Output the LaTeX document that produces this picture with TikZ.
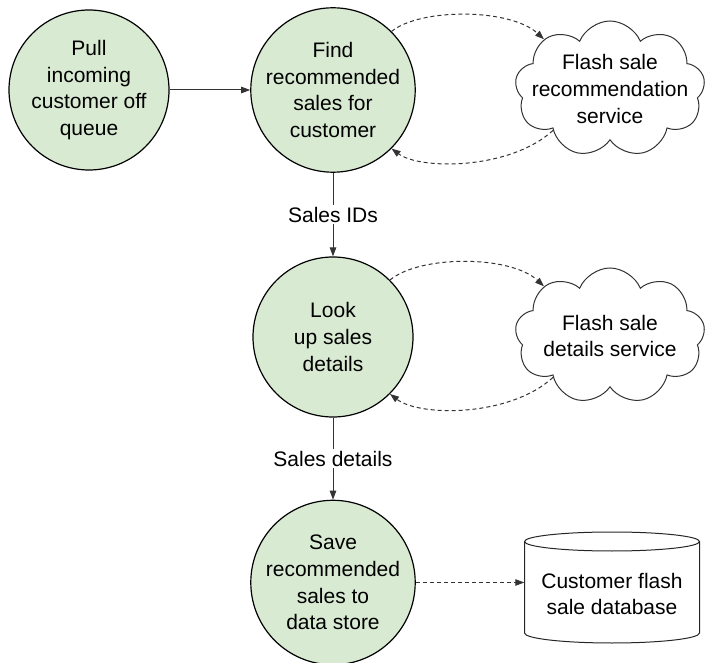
\documentclass[tikz,border=0pt]{standalone}
\usepackage{fontspec}
\setmainfont{Liberation Sans}
\usetikzlibrary{shapes.symbols,arrows.meta,calc}
\definecolor{nodegreen}{HTML}{D9EAD3}
\definecolor{linegray}{HTML}{333333}
\begin{document}
\begin{tikzpicture}[x=1pt,y=-1pt,
  every node/.style={font=\fontsize{21}{26.8}\selectfont},
  proc/.style={circle,draw=black,line width=1.2pt,fill=nodegreen,minimum size=160pt,inner sep=0pt,align=center},
  svc/.style={cloud,cloud puffs=9,cloud puff arc=135,aspect=1.45,draw=black!80,line width=1pt,fill=white,minimum width=190pt,minimum height=136pt,inner sep=0pt},
  flow/.style={draw=linegray,line width=1pt,-{Triangle[length=9pt,width=6.5pt]}},
  call/.style={flow,dash pattern=on 4pt off 3pt},
  lbl/.style={fill=white,inner sep=2pt},
  cyl/.style={draw=black!85,line width=1pt}
]
\useasboundingbox (0,0) rectangle (705,663);
\node[proc] (pull) at (89,90) {Pull\\incoming\\customer off\\queue};
\node[proc] (find) at (333,90) {Find\\recommended\\sales for\\customer};
\node[proc] (look) at (333,337) {Look\\up sales\\details};
\node[proc] (save) at (333,582.5) {Save\\recommended\\sales to\\data store};
\node[svc,label={[align=center]center:{Flash sale\\recommendation\\service}}] (rec) at (610,89) {};
\node[svc,label={[align=center]center:{Flash sale\\details service}}] (det) at (610,336) {};
\node[minimum width=175pt,minimum height=111pt,inner sep=0pt,align=center] (db) at (612,594) {Customer flash\\sale database};
\draw[cyl] ($(db.center)+(-87.5,-52.5)$) -- ($(db.center)+(-87.5,39)$) arc[start angle=180,end angle=360,x radius=87.5pt,y radius=10pt] -- ($(db.center)+(87.5,-52.5)$);
\draw[cyl] ($(db.center)+(0,-52.5)$) ellipse[x radius=87.5pt,y radius=9.5pt];

\draw[flow] (pull) -- (find);
\draw[flow] (find) -- node[lbl]{Sales IDs} (look);
\draw[flow] (look) -- node[lbl]{Sales details} (save);
\draw[call] (find.45) .. controls (420,8) and (510,8) .. (rec.143);
\draw[call] (rec.216) .. controls (510,170) and (420,170) .. (find.-45);
\draw[call] (look.45) .. controls (420,255) and (510,255) .. (det.143);
\draw[call] (det.216) .. controls (510,417) and (420,417) .. (look.-45);
\draw[call] (save.east) -- (save.east -| db.west);
\end{tikzpicture}
\end{document}
